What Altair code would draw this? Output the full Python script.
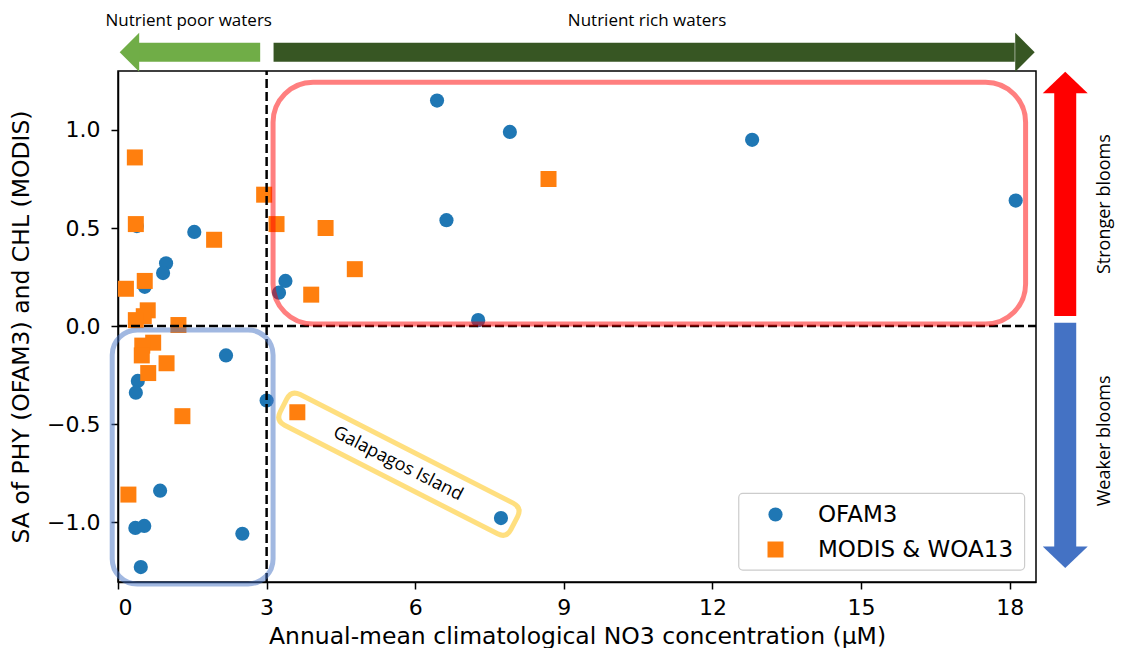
import altair as alt
import pandas as pd

# ---- data ----
ofam_x = [0.38, 1.54, 0.97, 0.91, 0.54, 3.38, 3.25, 6.44, 7.91, 6.63, 7.27, 12.80, 18.12,
          2.18, 0.40, 0.36, 3.00, 0.85, 0.35, 0.53, 2.51, 0.46, 7.73]
ofam_y = [0.51, 0.48, 0.32, 0.27, 0.20, 0.23, 0.17, 1.15, 0.99, 0.54, 0.03, 0.95, 0.64,
          -0.15, -0.28, -0.34, -0.38, -0.84, -1.03, -1.02, -1.06, -1.23, -0.98]
modis_x = [0.34, 0.36, 1.94, 2.95, 3.20, 0.16, 0.54, 0.60, 0.52, 0.36, 1.22, 0.71, 0.49,
           0.48, 0.98, 0.61, 1.30, 0.21, 4.19, 4.78, 3.90, 8.69, 3.62]
modis_y = [0.86, 0.52, 0.44, 0.67, 0.52, 0.19, 0.23, 0.08, 0.05, 0.03, 0.005, -0.085, -0.10,
           -0.15, -0.19, -0.24, -0.46, -0.86, 0.50, 0.29, 0.16, 0.75, -0.44]
series_names = ["OFAM3", "MODIS & WOA13"]
x_ticks = [0, 3, 6, 9, 12, 15, 18]
y_ticks = [-1.0, -0.5, 0.0, 0.5, 1.0]

df = pd.DataFrame({
    "no3": ofam_x + modis_x,
    "sa": ofam_y + modis_y,
    "source": [series_names[0]] * len(ofam_x) + [series_names[1]] * len(modis_x),
})

X_TITLE = "Annual-mean climatological NO3 concentration (μM)"
Y_TITLE = "SA of PHY (OFAM3) and CHL (MODIS)"
X_DOMAIN = [0, 18.53]
Y_DOMAIN = [-1.306, 1.301]
xs = alt.Scale(domain=X_DOMAIN, nice=False, zero=False)
ys = alt.Scale(domain=Y_DOMAIN, nice=False, zero=False)

FONT = "DejaVu Sans"
ANN = "Open Sans"

legend = alt.Legend(title=None, orient="none", legendX=646, legendY=432,
                    labelFont=FONT, labelFontSize=23, labelColor="black", labelLimit=400,
                    symbolSize=210, labelOffset=31, rowPadding=11, padding=0,
                    symbolStrokeWidth=0)

points = alt.Chart(df).mark_point(filled=True, opacity=1, strokeWidth=0).encode(
    x=alt.X("no3:Q", scale=xs, title=X_TITLE,
            axis=alt.Axis(values=x_ticks, format="d", labelPadding=8, titlePadding=6)),
    y=alt.Y("sa:Q", scale=ys, title=Y_TITLE,
            axis=alt.Axis(values=y_ticks, format=".1f", labelPadding=11, titlePadding=13)),
    color=alt.Color("source:N", scale=alt.Scale(domain=series_names, range=["#1f77b4", "#ff7f0e"]),
                    legend=legend),
    shape=alt.Shape("source:N", scale=alt.Scale(domain=series_names, range=["circle", "square"]),
                    legend=legend),
    size=alt.Size("source:N", scale=alt.Scale(domain=series_names, range=[201, 256]), legend=None),
)


def xq(f="x"):
    return alt.X(f + ":Q", scale=xs, title=X_TITLE)


def yq(f="y"):
    return alt.Y(f + ":Q", scale=ys, title=Y_TITLE)


# dashed threshold lines
vline = alt.Chart(pd.DataFrame({"x": [3.0], "y": [Y_DOMAIN[0]], "y2": [Y_DOMAIN[1]]})).mark_rule(
    color="black", strokeWidth=2.5, strokeDash=[9, 4]).encode(x=xq(), y=yq(), y2="y2")
hline = alt.Chart(pd.DataFrame({"x": [X_DOMAIN[0]], "x2": [X_DOMAIN[1]], "y": [0.0]})).mark_rule(
    color="black", strokeWidth=2.5, strokeDash=[9, 4]).encode(x=xq(), x2="x2", y=yq())

# rounded highlight boxes
red_box = alt.Chart(pd.DataFrame({"x": [3.13], "x2": [18.32], "y": [0.010], "y2": [1.244]})).mark_rect(
    fillOpacity=0, stroke="#ff0000", strokeOpacity=0.5, strokeWidth=5, cornerRadius=40).encode(
    x=xq(), x2="x2", y=yq(), y2="y2")
blue_box = alt.Chart(pd.DataFrame({"x": [-0.117], "x2": [3.13], "y": [-0.020], "y2": [-1.316]})).mark_rect(
    fillOpacity=0, stroke="#4472c4", strokeOpacity=0.5, strokeWidth=5, cornerRadius=25).encode(
    x=xq(), x2="x2", y=yq(), y2="y2")

gal_path = ("M-0.923,-0.133 L0.923,-0.133 Q1,-0.133 1,-0.056 L1,0.056 Q1,0.133 0.923,0.133 "
            "L-0.923,0.133 Q-1,0.133 -1,0.056 L-1,-0.056 Q-1,-0.133 -0.923,-0.133 Z")
gal_df = pd.DataFrame({"x": [5.67], "y": [-0.705]})
gal_box = alt.Chart(gal_df).mark_point(
    shape=gal_path, size=67081, angle=27, filled=False, opacity=1,
    stroke="#ffc000", strokeOpacity=0.5, strokeWidth=5).encode(x=xq(), y=yq())
gal_text = alt.Chart(pd.DataFrame({"x": [5.65], "y": [-0.704]})).mark_text(
    text="Galapagos Island", angle=27, font=ANN, fontSize=18, color="black",
    align="center", baseline="middle").encode(x=xq(), y=yq())

# top arrows (nutrient)
top_y = 1.397
light_shaft = alt.Chart(pd.DataFrame({"x": [0.40], "x2": [2.87], "y": [top_y]})).mark_rule(
    color="#70ad47", strokeWidth=19).encode(x=xq(), x2="x2", y=yq())
light_head = alt.Chart(pd.DataFrame({"x": [0.231], "y": [top_y]})).mark_point(
    shape="M0.5,-1 L-0.5,0 L0.5,1 Z", size=1521, filled=True, opacity=1, strokeWidth=0,
    color="#70ad47").encode(x=xq(), y=yq())
dark_shaft = alt.Chart(pd.DataFrame({"x": [3.14], "x2": [18.10], "y": [top_y]})).mark_rule(
    color="#375623", strokeWidth=19).encode(x=xq(), x2="x2", y=yq())
dark_head = alt.Chart(pd.DataFrame({"x": [18.307], "y": [top_y]})).mark_point(
    shape="M-0.5,-1 L0.5,0 L-0.5,1 Z", size=1521, filled=True, opacity=1, strokeWidth=0,
    color="#375623").encode(x=xq(), y=yq())
top_text = alt.Chart(pd.DataFrame({"x": [1.427, 10.68], "y": [1.529, 1.529],
                                   "t": ["Nutrient poor waters", "Nutrient rich waters"]})).mark_text(
    font=ANN, fontSize=17, color="black", align="center", baseline="alphabetic").encode(
    x=xq(), y=yq(), text="t:N")

# right arrows (bloom strength)
rx = 19.12
red_shaft = alt.Chart(pd.DataFrame({"x": [rx], "y": [1.20], "y2": [0.051]})).mark_rule(
    color="#ff0000", strokeWidth=22).encode(x=xq(), y=yq(), y2="y2")
red_head = alt.Chart(pd.DataFrame({"x": [rx], "y": [1.242]})).mark_point(
    shape="M-1,0.48 L0,-0.48 L1,0.48 Z", size=2025, filled=True, opacity=1, strokeWidth=0,
    color="#ff0000").encode(x=xq(), y=yq())
blue_shaft = alt.Chart(pd.DataFrame({"x": [rx], "y": [0.017], "y2": [-1.135]})).mark_rule(
    color="#4472c4", strokeWidth=22).encode(x=xq(), y=yq(), y2="y2")
blue_head = alt.Chart(pd.DataFrame({"x": [rx], "y": [-1.180]})).mark_point(
    shape="M-1,-0.48 L0,0.48 L1,-0.48 Z", size=2025, filled=True, opacity=1, strokeWidth=0,
    color="#4472c4").encode(x=xq(), y=yq())
side_text = alt.Chart(pd.DataFrame({"x": [20.02, 20.02], "y": [0.622, -0.586],
                                    "t": ["Stronger blooms", "Weaker blooms"]})).mark_text(
    font=ANN, fontSize=18, color="black", angle=270, align="center", baseline="alphabetic").encode(
    x=xq(), y=yq(), text="t:N")

# legend frame
legend_box = alt.Chart(pd.DataFrame({"x": [12.53], "x2": [18.30], "y": [-0.854], "y2": [-1.245]})).mark_rect(
    fill="white", fillOpacity=0.8, stroke="#cccccc", strokeWidth=1.2, cornerRadius=4).encode(
    x=xq(), x2="x2", y=yq(), y2="y2")

chart = alt.layer(
    points, vline, hline, red_box, blue_box, gal_box, gal_text,
    light_shaft, light_head, dark_shaft, dark_head, top_text,
    red_shaft, red_head, blue_shaft, blue_head, side_text, legend_box,
).properties(
    width=918, height=511,
    autosize=alt.AutoSizeParams(type="none"),
    padding={"left": 110, "top": 63, "right": 79, "bottom": 66},
).configure_view(
    stroke="black", strokeWidth=1.5
).configure_axis(
    grid=False, domainColor="black", domainWidth=1.5, tickColor="black", tickWidth=1.5,
    tickSize=7, labelFont=FONT, labelFontSize=22, labelColor="black",
    titleFont=FONT, titleFontSize=23.5, titleFontWeight="normal", titleColor="black",
)

chart.save("out.html", embed_options={"renderer": "svg", "actions": False})
